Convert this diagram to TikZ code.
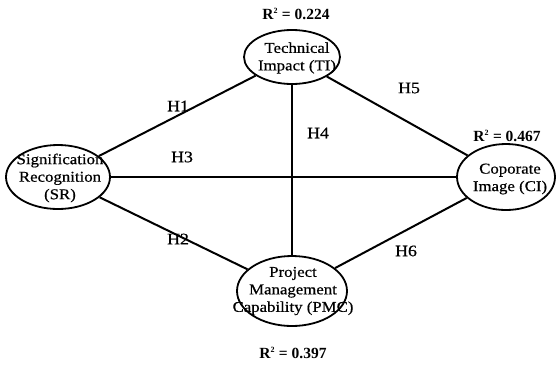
\documentclass[tikz,border=0pt]{standalone}
\usepackage{fontspec}
\setmainfont{Liberation Serif}[FakeStretch=1.12, FakeBold=0.6]
\newfontfamily\rsqfont{Liberation Serif}
\usetikzlibrary{shapes.geometric}

\begin{document}
\begin{tikzpicture}[x=1pt, y=-1pt,
  latent/.style={draw, ellipse, line width=1.8pt, inner sep=0pt},
  caption/.style={align=center, inner sep=0pt, font=\fontsize{15}{17.5}\selectfont},
  link/.style={line width=2pt},
  hyp/.style={inner sep=0pt, font=\fontsize{16}{17}\selectfont},
  rsq/.style={inner sep=0pt, font=\rsqfont\bfseries\fontsize{15.5}{16}\selectfont}]

  \fill[white] (0,0) rectangle (556,368);
  \useasboundingbox (0,0) rectangle (556,368);

  % constructs
  \node[latent, minimum width=96pt, minimum height=54pt] (TI)  at (292,57)  {};
  \node[latent, minimum width=104pt, minimum height=64pt] (SR)  at (58,177)  {};
  \node[latent, minimum width=98pt, minimum height=66pt] (CI)  at (506,177) {};
  \node[latent, minimum width=110pt, minimum height=70pt] (PMC) at (292,291) {};

  \node[caption] (tTI)  at (297,58)  {Technical\\Impact (TI)};
  \node[caption] (tSR)  at (60,178)  {Signification\\Recognition\\(SR)};
  \node[caption] (tCI)  at (510,179) {Coporate\\Image (CI)};
  \node[caption] (tPMC) at (293,291) {Project\\Management\\Capability (PMC)};

  % paths
  \draw[link] (SR) -- (TI);
  \draw[link] (SR) -- (CI);
  \draw[link] (SR) -- (PMC);
  \draw[link] (TI) -- (PMC);
  \draw[link] (TI) -- (CI);
  \draw[link] (PMC) -- (CI);

  % hypothesis labels
  \node[hyp] (h1) at (178,106) {H1};
  \node[hyp] (h2) at (178,239) {H2};
  \node[hyp] (h3) at (182,157) {H3};
  \node[hyp] (h4) at (318,133) {H4};
  \node[hyp] (h5) at (409,88)  {H5};
  \node[hyp] (h6) at (406,251) {H6};

  % explained variance
  \node[rsq] (rTI)  at (296,14)  {R\textsuperscript{\fontsize{8}{8}\selectfont 2} = 0.224};
  \node[rsq] (rCI)  at (507,136) {R\textsuperscript{\fontsize{8}{8}\selectfont 2} = 0.467};
  \node[rsq] (rPMC) at (293,353) {R\textsuperscript{\fontsize{8}{8}\selectfont 2} = 0.397};
\end{tikzpicture}
\end{document}
